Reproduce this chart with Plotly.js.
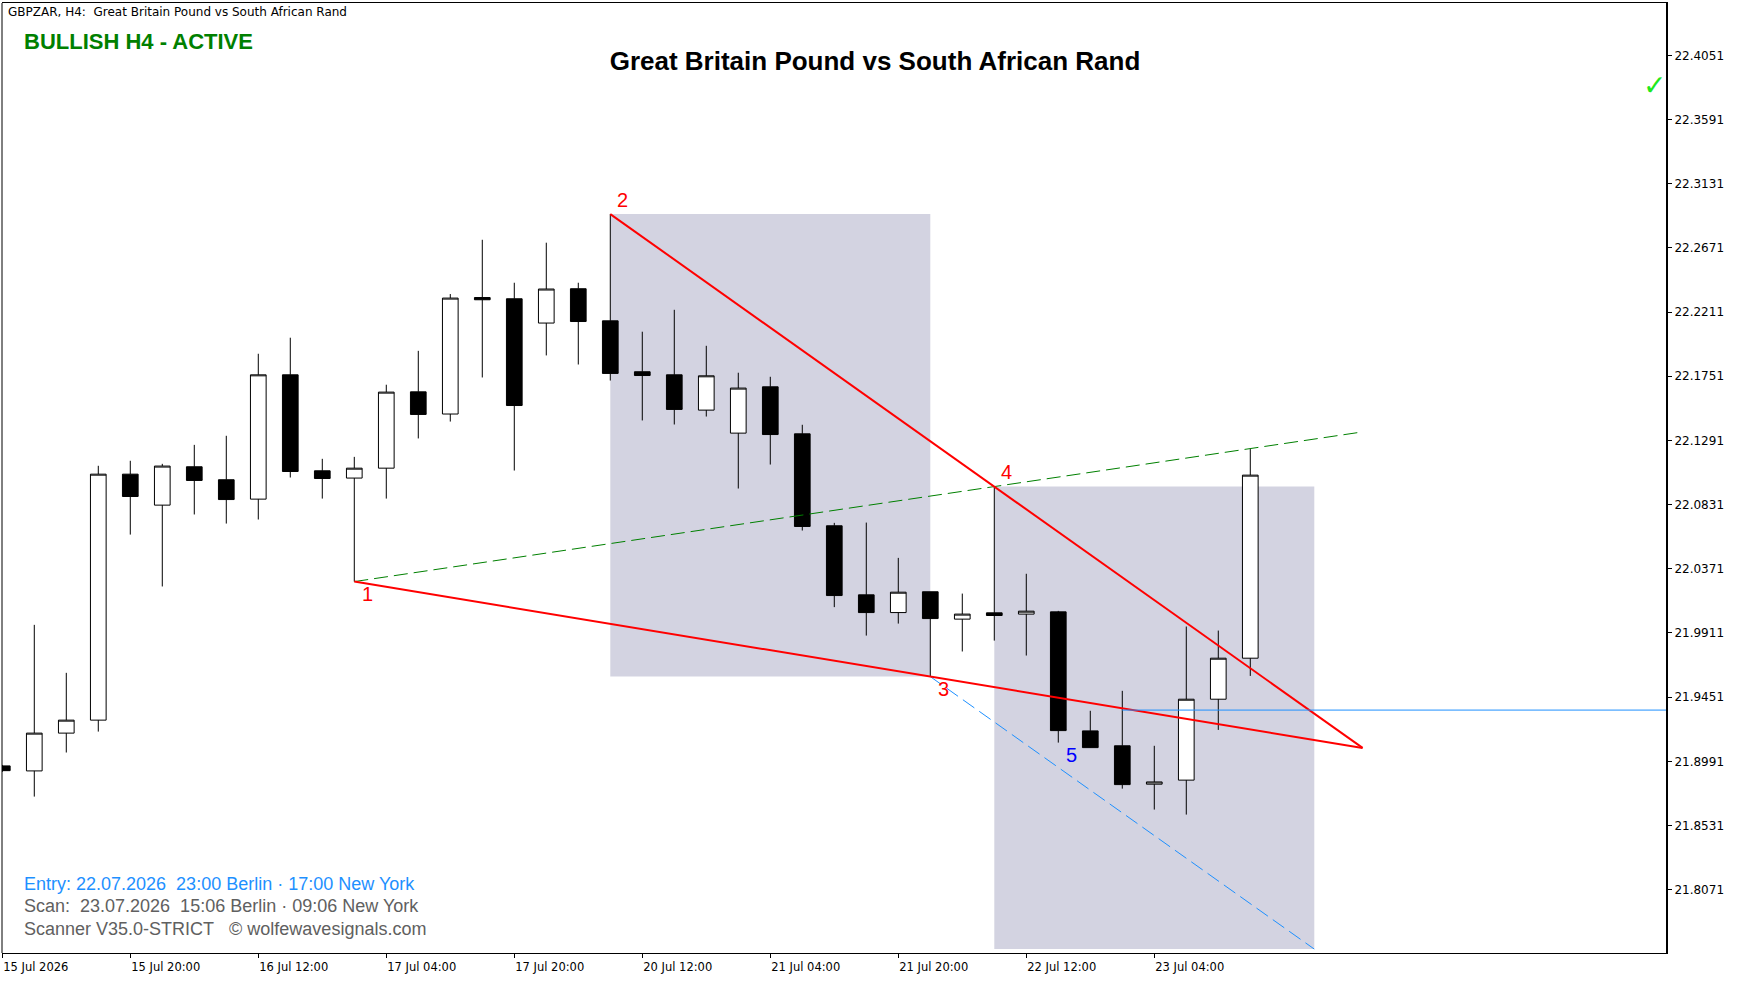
<!DOCTYPE html>
<html>
<head>
<meta charset="utf-8">
<script src="https://cdn.plot.ly/plotly-3.0.1.min.js"></script>
<style>
html,body{margin:0;padding:0;background:#ffffff;}
#chart{width:1744px;height:981px;}
</style>
</head>
<body>
<div id="chart"></div>
<script>
// ---------------- DATA ----------------
const times = [
  "2026-07-15 04:00","2026-07-15 08:00","2026-07-15 12:00","2026-07-15 16:00","2026-07-15 20:00",
  "2026-07-16 00:00","2026-07-16 04:00","2026-07-16 08:00","2026-07-16 12:00","2026-07-16 16:00","2026-07-16 20:00",
  "2026-07-17 00:00","2026-07-17 04:00","2026-07-17 08:00","2026-07-17 12:00","2026-07-17 16:00","2026-07-17 20:00",
  "2026-07-20 00:00","2026-07-20 04:00","2026-07-20 08:00","2026-07-20 12:00","2026-07-20 16:00","2026-07-20 20:00",
  "2026-07-21 00:00","2026-07-21 04:00","2026-07-21 08:00","2026-07-21 12:00","2026-07-21 16:00","2026-07-21 20:00",
  "2026-07-22 00:00","2026-07-22 04:00","2026-07-22 08:00","2026-07-22 12:00","2026-07-22 16:00","2026-07-22 20:00",
  "2026-07-23 00:00","2026-07-23 04:00","2026-07-23 08:00","2026-07-23 12:00","2026-07-23 16:00"
];
const openP = [
  21.8958,21.8922,21.9193,21.9286,22.1049,22.0827,22.1102,22.1009,22.0870,22.1761,
  22.1073,22.1021,22.1092,22.1639,22.1480,22.2315,22.2306,22.2132,22.2378,22.2148,
  22.1783,22.1761,22.1508,22.1343,22.1675,22.1338,22.0679,22.0184,22.0057,22.0206,
  22.0010,22.0055,22.0046,22.0062,21.9209,21.9102,21.8827,21.8856,21.9436,21.9730
];
const highP = [
  21.8965,21.9969,21.9625,22.1109,22.1145,22.1123,22.1259,22.1324,22.1912,22.2027,
  22.1159,22.1173,22.1690,22.1933,22.2340,22.2729,22.2421,22.2708,22.2421,22.2913,
  22.2070,22.2227,22.1969,22.1776,22.1747,22.1403,22.0700,22.0702,22.0449,22.0206,
  22.0193,22.0960,22.0335,22.0069,21.9353,21.9496,21.9102,21.9957,21.9928,22.1229
];
const lowP = [
  21.8915,21.8738,21.9054,21.9204,22.0616,22.0244,22.0760,22.0695,22.0724,22.1025,
  22.0874,22.0279,22.0874,22.1305,22.1426,22.1742,22.1075,22.1900,22.1835,22.1720,
  22.1434,22.1405,22.1462,22.0946,22.1118,22.0645,22.0096,21.9892,21.9978,21.9598,
  21.9778,21.9856,21.9749,21.9125,21.9087,21.8795,21.8645,21.8609,21.9216,21.9603
];
const closeP = [
  21.8924,21.9193,21.9286,22.1049,22.0889,22.1107,22.1004,22.0867,22.1761,22.1068,
  22.1018,22.1092,22.1637,22.1477,22.2311,22.2299,22.1541,22.2376,22.2143,22.1771,
  22.1756,22.1513,22.1754,22.1666,22.1333,22.0674,22.0179,22.0057,22.0203,22.0014,
  22.0046,22.0036,22.0067,21.9211,21.9089,21.8824,21.8843,21.9436,21.9730,22.1042
];
const tickTimes = ["2026-07-15 04:00","2026-07-15 20:00","2026-07-16 12:00","2026-07-17 04:00","2026-07-17 20:00",
                   "2026-07-20 12:00","2026-07-21 04:00","2026-07-21 20:00","2026-07-22 12:00","2026-07-23 04:00"];
const tickText = ["15 Jul 2026","15 Jul 20:00","16 Jul 12:00","17 Jul 04:00","17 Jul 20:00",
                  "20 Jul 12:00","21 Jul 04:00","21 Jul 20:00","22 Jul 12:00","23 Jul 04:00"];
const priceTicks = [22.4051,22.3591,22.3131,22.2671,22.2211,22.1751,22.1291,22.0831,22.0371,21.9911,21.9451,21.8991,21.8531,21.8071];
const waveLabels = ["1","2","3","4","5"];
const waveTimes = ["2026-07-17 00:00","2026-07-20 08:00","2026-07-22 00:00","2026-07-22 08:00","2026-07-22 16:00"];
const wavePrices = [22.0279,22.2913,21.9598,22.0960,21.9125];
const entryTime = "2026-07-23 00:00";
const entryPrice = 21.9358;
const chartTitle = "Great Britain Pound vs South African Rand";
const symbolLine = "GBPZAR, H4:\u00a0\u00a0Great Britain Pound vs South African Rand";
const statusText = "BULLISH H4 - ACTIVE";
const infoLines = ["Entry: 22.07.2026\u00a0\u00a023:00 Berlin · 17:00 New York",
                   "Scan:\u00a0\u00a023.07.2026\u00a0\u00a015:06 Berlin · 09:06 New York",
                   "Scanner V35.0-STRICT\u00a0\u00a0\u00a0© wolfewavesignals.com"];

// ---------------- BUILD ----------------
const idx = t => times.indexOf(t);
const xs = times.map((t, i) => i);
const wx = waveTimes.map(idx);
const wy = wavePrices;

// wedge geometry from wave points
const s13 = (wy[2] - wy[0]) / (wx[2] - wx[0]);
const s24 = (wy[3] - wy[1]) / (wx[3] - wx[1]);
const apexX = (wy[1] - s24 * wx[1] - wy[0] + s13 * wx[0]) / (s13 - s24);
const apexY = wy[0] + s13 * (apexX - wx[0]);
const s14 = (wy[3] - wy[0]) / (wx[3] - wx[0]);
const span = wx[2] - wx[1];
const height23 = wy[1] - wy[2];
const projEnd = wx[3] + span;

const X0 = -0.009, X1 = 51.991;
const PLOT_L = 2, PLOT_R = 1666, PLOT_T = 3, PLOT_B = 953;
const px = p => (p - PLOT_L) / (PLOT_R - PLOT_L);
const py = p => (PLOT_B - p) / (PLOT_B - PLOT_T);

const traces = [
  {
    type: 'candlestick', x: xs, open: openP, high: highP, low: lowP, close: closeP,
    increasing: {line: {color: '#000000', width: 1}, fillcolor: '#ffffff'},
    decreasing: {line: {color: '#000000', width: 1}, fillcolor: '#000000'},
    whiskerwidth: 0, hoverinfo: 'skip', showlegend: false
  },
  { // 1-4 line (green dashed)
    type: 'scatter', mode: 'lines', x: [wx[0], apexX], y: [wy[0], wy[0] + s14 * (apexX - wx[0])],
    line: {color: '#008000', width: 1, dash: '14px,6px'}, hoverinfo: 'skip'
  },
  { // projected line from 3, parallel to 2-4 (blue dashed)
    type: 'scatter', mode: 'lines', x: [wx[2], projEnd], y: [wy[2], wy[2] + s24 * (projEnd - wx[2])],
    line: {color: '#1e90ff', width: 1, dash: '14px,6px'}, hoverinfo: 'skip'
  },
  { // 1-3 line
    type: 'scatter', mode: 'lines', x: [wx[0], apexX], y: [wy[0], apexY],
    line: {color: '#ff0000', width: 2}, hoverinfo: 'skip'
  },
  { // 2-4 line
    type: 'scatter', mode: 'lines', x: [wx[1], apexX], y: [wy[1], apexY],
    line: {color: '#ff0000', width: 2}, hoverinfo: 'skip'
  },
  { // entry line
    type: 'scatter', mode: 'lines', x: [idx(entryTime), X1], y: [entryPrice, entryPrice],
    line: {color: '#1e90ff', width: 1}, hoverinfo: 'skip'
  }
];

const shapes = [
  {type: 'rect', layer: 'below', xref: 'x', yref: 'y', x0: wx[1], x1: wx[2], y0: wy[1], y1: wy[2],
   fillcolor: '#d3d3e1', line: {width: 0}},
  {type: 'rect', layer: 'below', xref: 'x', yref: 'y', x0: wx[3], x1: projEnd, y0: wy[3], y1: wy[3] - height23,
   fillcolor: '#d3d3e1', line: {width: 0}},
  {type: 'line', xref: 'paper', yref: 'paper', x0: 0, x1: 0, y0: 0, y1: 1, line: {color: '#000000', width: 1}}
];

const labelColors = ['#ff0000','#ff0000','#ff0000','#ff0000','#0000ff'];
const labelShift = [[13,-12],[12,14],[13,-12],[12,15],[13,-12]];
const annotations = waveLabels.map((t, i) => ({
  text: t, x: wx[i], y: wy[i], xref: 'x', yref: 'y', showarrow: false,
  xshift: labelShift[i][0], yshift: labelShift[i][1], xanchor: 'center', yanchor: 'middle',
  font: {family: 'Liberation Sans, Arial, sans-serif', size: 20, color: labelColors[i]}
}));
annotations.push(
  {text: symbolLine, xref: 'paper', yref: 'paper', x: px(6), y: py(12), xanchor: 'left', yanchor: 'middle',
   showarrow: false, font: {family: 'DejaVu Sans, sans-serif', size: 12, color: '#000000'}},
  {text: '<b>' + statusText + '</b>', xref: 'paper', yref: 'paper', x: px(22), y: py(41), xanchor: 'left', yanchor: 'middle',
   showarrow: false, font: {family: 'Liberation Sans, Arial, sans-serif', size: 22, color: '#008000'}},
  {text: '\u2713', xref: 'paper', yref: 'paper', x: px(1654), y: py(85), xanchor: 'center', yanchor: 'middle',
   showarrow: false, font: {family: 'DejaVu Sans, sans-serif', size: 28, color: '#1ee81e'}}
);
const infoColors = ['#1e90ff', '#606060', '#606060'];
const infoY = [884, 906, 928.5];
infoLines.forEach((t, i) => annotations.push({
  text: t, xref: 'paper', yref: 'paper', x: px(22), y: py(infoY[i]), xanchor: 'left', yanchor: 'middle',
  showarrow: false, font: {family: 'Liberation Sans, Arial, sans-serif', size: 18, color: infoColors[i]}
}));

const layout = {
  width: 1744, height: 981,
  margin: {l: PLOT_L, r: 1744 - PLOT_R, t: PLOT_T, b: 981 - PLOT_B, pad: 0},
  paper_bgcolor: '#ffffff', plot_bgcolor: '#ffffff',
  showlegend: false, hovermode: false,
  title: {text: '<b>' + chartTitle + '</b>', xref: 'container', yref: 'container',
          x: 875 / 1744, y: 1 - 61 / 981, xanchor: 'center', yanchor: 'middle',
          font: {family: 'Liberation Sans, Arial, sans-serif', size: 26, color: '#000000'}},
  xaxis: {
    range: [X0, X1], showgrid: false, zeroline: false, showline: true, linecolor: '#000000', linewidth: 1, mirror: true,
    ticks: 'outside', ticklen: 4, tickcolor: '#000000',
    tickvals: tickTimes.map(idx), ticktext: tickText, ticklabelposition: 'outside right', ticklabelstandoff: 3,
    tickfont: {family: 'DejaVu Sans, sans-serif', size: 11.5, color: '#000000'},
    rangeslider: {visible: false}, fixedrange: true
  },
  yaxis: {
    side: 'right', range: [21.7617, 22.4426], showgrid: false, zeroline: false, showline: true,
    linecolor: '#000000', linewidth: 2, ticks: 'outside', ticklen: 4, tickcolor: '#000000',
    tickvals: priceTicks, ticktext: priceTicks.map(v => v.toFixed(4)),
    tickfont: {family: 'DejaVu Sans, sans-serif', size: 12, color: '#000000'}, fixedrange: true
  },
  shapes: shapes,
  annotations: annotations
};

Plotly.newPlot('chart', traces, layout, {staticPlot: true, displayModeBar: false});
</script>
</body>
</html>
